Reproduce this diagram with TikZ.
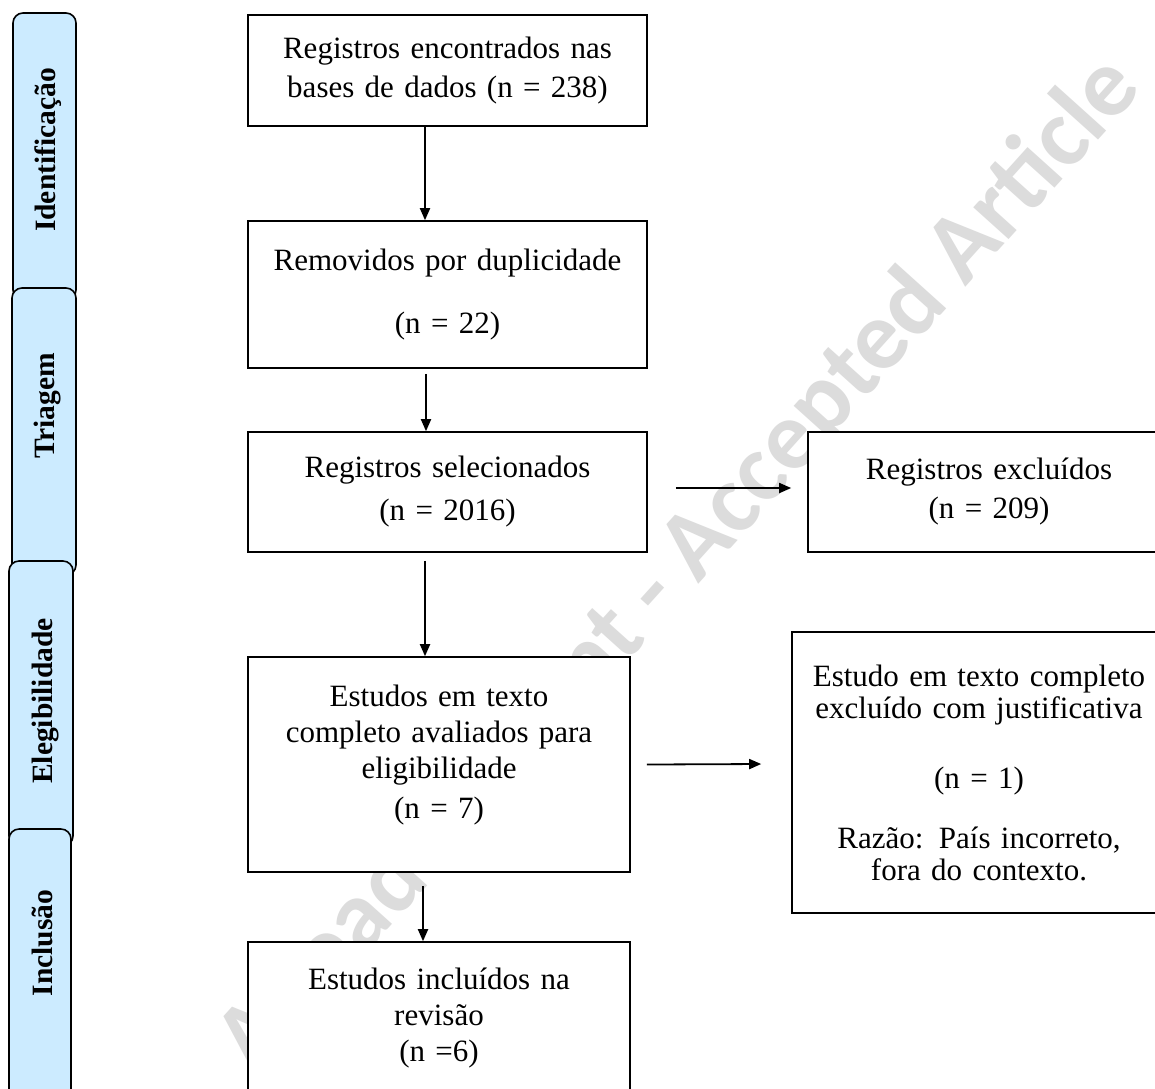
\documentclass[tikz,border=0pt]{standalone}
\usepackage{fontspec}
\setmainfont{Liberation Serif}
\newfontfamily\wmfont{Carlito}
\usetikzlibrary{arrows.meta}
\definecolor{tabblue}{RGB}{204,235,255}
\definecolor{wmgray}{RGB}{220,220,220}
\begin{document}
\begin{tikzpicture}[x=1pt,y=-1pt,
  box/.style={draw=black, fill=white, line width=1.6pt, inner sep=0pt, align=center, font=\fontsize{31}{36}\selectfont},
  tabbox/.style={draw=black, line width=1.6pt, fill=tabblue, rounded corners=10pt, inner sep=0pt},
  tablabel/.style={rotate=90, anchor=base, inner sep=0pt, font=\fontsize{29.5}{34}\selectfont\bfseries},
  arr/.style={line width=1.8pt, -{Triangle[length=12pt,width=10pt]}},
  wm/.style={rotate=48, text=wmgray, inner sep=0pt, font=\wmfont\bfseries\fontsize{98}{98}\selectfont}
]
\clip (0,0) rectangle (1155,1088);
\fill[white] (0,0) rectangle (1155,1088);
% watermark
\node[wm] (wmk) at (680,565) {Ahead of Print - Accepted Article};
% tabs
\node[tabbox, minimum width=63pt, minimum height=287pt] (tab1) at (44.5,156.5) {};
\node[tabbox, minimum width=64pt, minimum height=287pt] (tab2) at (44,431.5) {};
\node[tabbox, minimum width=64pt, minimum height=285pt] (tab3) at (41,703.5) {};
\node[tabbox, minimum width=62pt, minimum height=281pt] (tab4) at (40,969.5) {};
\node[tablabel] (l1) at (55.5,150) {Identificação};
\node[tablabel] (l2) at (54,406) {Triagem};
\node[tablabel] (l3) at (52,701) {Elegibilidade};
\node[tablabel] (l4) at (52,943) {Inclusão};
% boxes
\node[box, text width=399pt, minimum height=111pt] (b1) at (447.5,70.5) {Registros encontrados nas\\[3pt]bases de dados (n = 238)};
\node[box, text width=399pt, minimum height=147pt] (b2) at (447.5,294.5) {Removidos por duplicidade\\[27pt](n = 22)};
\node[box, text width=399pt, minimum height=120pt] (b3) at (447.5,492) {Registros selecionados\\[7pt](n = 2016)};
\node[box, text width=362pt, minimum height=120pt] (b4) at (989,492) {Registros excluídos\\[3pt](n = 209)};
\node[box, text width=382pt, minimum height=215pt] (b5) at (439,764.5) {Estudos em texto\\completo avaliados para\\eligibilidade\\[4pt](n = 7)\\[-10pt]\mbox{}};
\node[box, text width=374pt, minimum height=281pt, font=\fontsize{31}{32}\selectfont] (b6) at (979,772.5) {Estudo em texto completo\\excluído com justificativa\\[38pt](n = 1)\\[28pt]Razão: País incorreto,\\fora do contexto.};
\node[box, text width=382pt, minimum height=152pt] (b7) at (439,1018) {Estudos incluídos na\\revisão\\(n =6)};
% arrows
\draw[arr] ([xshift=-22.5pt]b1.south) -- ([xshift=-22.5pt]b2.north);
\draw[arr] ([xshift=-21.5pt,yshift=-5pt]b2.south) -- ([xshift=-21.5pt]b3.north);
\draw[arr] ([xshift=-22.5pt,yshift=-8pt]b3.south) -- ([xshift=-14pt]b5.north);
\draw[arr] ([xshift=-16pt,yshift=-13pt]b5.south) -- ([xshift=-16pt]b7.north);
\draw[arr] ([xshift=28pt,yshift=4pt]b3.east) -- ([xshift=-16pt,yshift=4pt]b4.west);
\draw[arr] ([xshift=16pt]b5.east) -- ([xshift=-30pt,yshift=8.5pt]b6.west);
\end{tikzpicture}
\end{document}
